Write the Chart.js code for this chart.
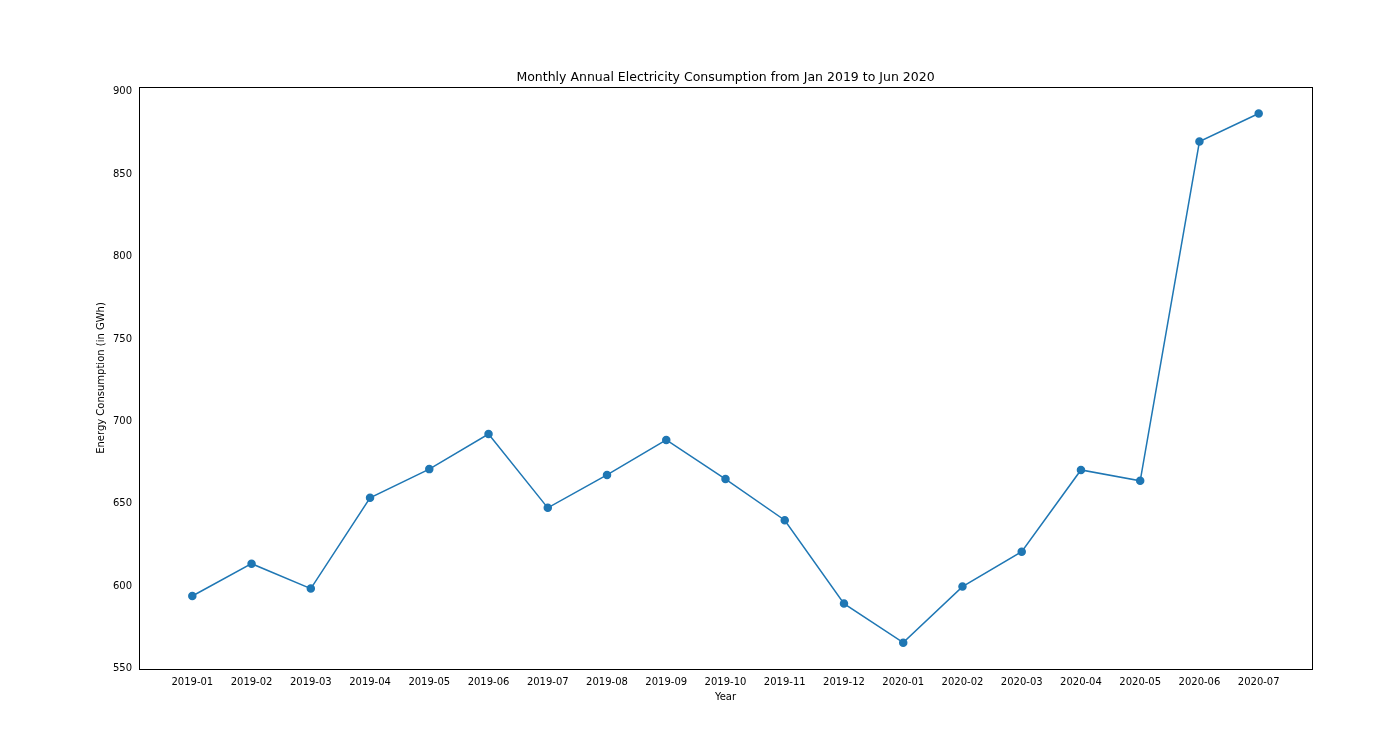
<!DOCTYPE html>
<html><head><meta charset="utf-8">
<script src="https://cdn.jsdelivr.net/npm/chart.js@4"></script>
<style>html,body{margin:0;padding:0;background:#fff}#wrap{width:1384px;height:745px}</style>
</head><body><div id="wrap"><canvas id="c"></canvas></div>
<script>
const categories=["2019-01","2019-02","2019-03","2019-04","2019-05","2019-06","2019-07","2019-08","2019-09","2019-10","2019-11","2019-12","2020-01","2020-02","2020-03","2020-04","2020-05","2020-06","2020-07"];
const consumption=[594,613.6,598.5,653.6,671,692.3,647.5,667.5,688.7,665,640,589.4,565.7,599.7,620.9,670.5,663.9,869.8,886.8];
const yTicks=[550,600,650,700,750,800,850,900];
const titleText="Monthly Annual Electricity Consumption from Jan 2019 to Jun 2020";
const frame={id:'frame',afterDraw(c){const a=c.chartArea,x=c.ctx;x.save();x.strokeStyle='#000';x.lineWidth=1;x.strokeRect(Math.round(a.left)+0.5,Math.round(a.top)+0.5,Math.round(a.right-a.left),Math.round(a.bottom-a.top));
x.fillStyle='#000';x.font='12.5px "DejaVu Sans"';x.textAlign='center';x.textBaseline='alphabetic';x.fillText(titleText,(a.left+a.right)/2,a.top-6);x.restore();}};
new Chart(document.getElementById('c'),{type:'line',
data:{datasets:[{data:consumption.map((v,i)=>({x:i,y:v})),borderColor:'#1f77b4',backgroundColor:'#1f77b4',borderWidth:1.5,pointRadius:3.5,pointHoverRadius:3.5,tension:0}]},
options:{responsive:true,maintainAspectRatio:false,animation:false,
layout:{padding:{top:87,right:72,bottom:38,left:95}},
plugins:{legend:{display:false},tooltip:{enabled:false}},
scales:{
x:{type:'linear',min:-0.9,max:18.9,afterBuildTicks(s){s.ticks=categories.map((_,i)=>({value:i}));},
ticks:{autoSkip:false,maxRotation:0,color:'#000',font:{size:10,family:'DejaVu Sans'},callback:v=>categories[v]},
grid:{display:false,drawTicks:true,tickLength:4,tickColor:'#000'},border:{color:'#000'},
title:{display:true,text:'Year',color:'#000',font:{size:10,family:'DejaVu Sans'},padding:{top:0}},afterFit(s){s.height=38;}},
y:{min:549.7,max:902.9,afterBuildTicks(s){s.ticks=yTicks.map(v=>({value:v}));},
ticks:{color:'#000',font:{size:10,family:'DejaVu Sans'}},
grid:{display:false,drawTicks:true,tickLength:4,tickColor:'#000'},border:{color:'#000'},
title:{display:true,text:'Energy Consumption (in GWh)',color:'#000',font:{size:10,family:'DejaVu Sans'},padding:{top:0,bottom:4}},afterFit(s){s.width=44;}}}},
plugins:[frame]});
</script></body></html>
